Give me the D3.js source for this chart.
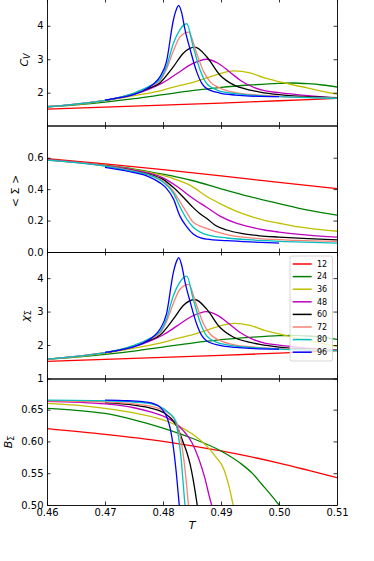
<!DOCTYPE html>
<html><head><meta charset="utf-8">
<script src="https://cdn.jsdelivr.net/npm/d3@7"></script>
<style>body{margin:0;background:#fff} svg{display:block} text{font-family:"DejaVu Sans",sans-serif;fill:#000}</style>
</head><body><svg id="c" width="374" height="561"></svg>
<script>
// ---- data ----
const sizes = [12, 24, 36, 48, 60, 72, 80, 96];
const colors = ["#ff0000", "#008000", "#bfbf00", "#bf00bf", "#000000", "#fa8072", "#00bfbf", "#0000ff"];
const xTicks = [0.46, 0.47, 0.48, 0.49, 0.50, 0.51];
const cvTicks = [2, 3, 4];
const sigmaTicks = [0.0, 0.2, 0.4, 0.6];
const chiTicks = [1, 2, 3, 4];
const binderTicks = [0.50, 0.55, 0.60, 0.65];

// specific heat C_V : [T, value]
const cv12 = [[0.46,1.51],[0.47,1.57],[0.48,1.63],[0.49,1.69],[0.50,1.76],[0.51,1.83]];
const cv24 = [[0.46,1.58],[0.465,1.64],[0.47,1.72],[0.475,1.82],[0.48,1.94],[0.485,2.06],[0.49,2.16],[0.495,2.23],[0.50,2.28],[0.5025,2.29],[0.505,2.27],[0.5075,2.23],[0.51,2.17]];
const cv36 = [[0.46,1.58],[0.465,1.65],[0.47,1.76],[0.475,1.91],[0.48,2.08],[0.4825,2.20],[0.485,2.30],[0.4875,2.44],[0.49,2.58],[0.4922,2.65],[0.495,2.59],[0.4975,2.44],[0.50,2.33],[0.5025,2.23],[0.505,2.14],[0.5075,2.04],[0.51,1.96]];
const cv48 = [[0.46,1.58],[0.465,1.66],[0.47,1.77],[0.475,1.95],[0.4775,2.10],[0.48,2.30],[0.4825,2.58],[0.485,2.86],[0.4875,3.00],[0.4895,2.88],[0.4915,2.62],[0.4935,2.35],[0.4955,2.17],[0.4975,2.06],[0.50,2.00],[0.505,1.91],[0.51,1.84]];
const cv60 = [[0.47,1.77],[0.475,1.97],[0.4775,2.13],[0.4795,2.30],[0.4818,2.78],[0.4835,3.18],[0.4855,3.36],[0.4875,3.08],[0.4898,2.53],[0.4921,2.24],[0.495,2.08],[0.4967,2.02],[0.50,1.94],[0.505,1.88],[0.51,1.85]];
const cv72 = [[0.46,1.58],[0.465,1.66],[0.47,1.77],[0.475,1.98],[0.4775,2.16],[0.4795,2.36],[0.4806,2.70],[0.4818,3.25],[0.4829,3.66],[0.4844,3.81],[0.4858,3.18],[0.487,2.63],[0.4881,2.33],[0.4898,2.14],[0.4925,2.00],[0.495,1.95],[0.50,1.89],[0.505,1.86],[0.51,1.84]];
const cv80 = [[0.46,1.58],[0.465,1.66],[0.47,1.77],[0.475,1.99],[0.4775,2.18],[0.4795,2.40],[0.4806,2.78],[0.4818,3.48],[0.4829,3.88],[0.4841,4.06],[0.4852,3.38],[0.4864,2.68],[0.4875,2.28],[0.4893,2.08],[0.4925,1.97],[0.495,1.93],[0.50,1.88],[0.505,1.85],[0.51,1.83]];
const cv96 = [[0.47,1.78],[0.4725,1.85],[0.475,1.95],[0.4765,2.05],[0.4783,2.25],[0.4795,2.48],[0.4806,2.93],[0.4818,4.18],[0.4824,4.53],[0.4827,4.61],[0.4832,4.40],[0.4838,3.88],[0.4847,3.28],[0.4858,2.63],[0.4867,2.28],[0.4875,2.13],[0.4898,1.99],[0.4925,1.93],[0.495,1.90],[0.50,1.88]];

// order parameter <Sigma>
const s12 = [[0.46,0.594],[0.47,0.561],[0.48,0.524],[0.49,0.484],[0.50,0.443],[0.51,0.403]];
const s24 = [[0.46,0.590],[0.47,0.552],[0.475,0.528],[0.48,0.495],[0.485,0.455],[0.49,0.402],[0.495,0.352],[0.50,0.308],[0.505,0.266],[0.51,0.235]];
const s36 = [[0.46,0.588],[0.47,0.551],[0.475,0.524],[0.48,0.487],[0.4825,0.458],[0.485,0.418],[0.4875,0.355],[0.49,0.305],[0.4925,0.262],[0.495,0.228],[0.4975,0.202],[0.50,0.183],[0.5025,0.165],[0.505,0.152],[0.51,0.132]];
const s48 = [[0.46,0.587],[0.47,0.550],[0.475,0.521],[0.48,0.472],[0.4825,0.415],[0.485,0.345],[0.4875,0.285],[0.49,0.225],[0.4925,0.185],[0.495,0.160],[0.4975,0.140],[0.50,0.127],[0.505,0.108],[0.51,0.095]];
const s60 = [[0.47,0.548],[0.475,0.516],[0.4775,0.495],[0.48,0.462],[0.4818,0.410],[0.483,0.368],[0.485,0.290],[0.4865,0.240],[0.4875,0.215],[0.489,0.170],[0.491,0.140],[0.4935,0.118],[0.4967,0.103],[0.50,0.095],[0.505,0.085],[0.51,0.077]];
const s72 = [[0.46,0.585],[0.47,0.548],[0.475,0.514],[0.4775,0.492],[0.48,0.452],[0.4818,0.386],[0.4829,0.322],[0.4841,0.250],[0.4852,0.190],[0.4875,0.150],[0.491,0.110],[0.4967,0.085],[0.503,0.074],[0.51,0.067]];
const s80 = [[0.46,0.585],[0.47,0.547],[0.475,0.512],[0.4775,0.490],[0.48,0.445],[0.4818,0.375],[0.4829,0.290],[0.4841,0.210],[0.4852,0.158],[0.4865,0.125],[0.4875,0.110],[0.491,0.089],[0.4967,0.074],[0.503,0.064],[0.51,0.057]];
const s96 = [[0.47,0.539],[0.475,0.505],[0.4775,0.480],[0.4795,0.440],[0.4806,0.405],[0.4818,0.338],[0.4829,0.230],[0.4841,0.160],[0.4852,0.115],[0.4865,0.090],[0.4875,0.082],[0.491,0.072],[0.495,0.064],[0.50,0.057]];

// susceptibility chi_Sigma (reads the same as C_V in the picture)
const chi12 = cv12, chi24 = cv24, chi36 = cv36, chi48 = cv48, chi60 = cv60, chi72 = cv72, chi80 = cv80, chi96 = cv96;

// Binder cumulant B_Sigma
const b12 = [[0.46,0.620],[0.47,0.611],[0.48,0.600],[0.49,0.585],[0.50,0.566],[0.51,0.543]];
const b24 = [[0.46,0.652],[0.465,0.649],[0.47,0.644],[0.475,0.634],[0.48,0.621],[0.485,0.605],[0.49,0.585],[0.4933,0.566],[0.4955,0.549],[0.497,0.533],[0.4985,0.517],[0.50,0.500],[0.5005,0.494]];
const b36 = [[0.46,0.660],[0.465,0.657],[0.47,0.652],[0.475,0.645],[0.48,0.634],[0.4825,0.625],[0.485,0.612],[0.4875,0.593],[0.489,0.577],[0.4905,0.556],[0.4915,0.525],[0.4921,0.500],[0.4923,0.494]];
const b48 = [[0.46,0.663],[0.47,0.659],[0.475,0.653],[0.478,0.646],[0.48,0.640],[0.482,0.630],[0.4835,0.617],[0.485,0.598],[0.4862,0.572],[0.4872,0.543],[0.488,0.513],[0.4885,0.496]];
const b60 = [[0.47,0.661],[0.475,0.657],[0.478,0.652],[0.4805,0.643],[0.4818,0.632],[0.4826,0.620],[0.4835,0.598],[0.4841,0.583],[0.4847,0.563],[0.4852,0.540],[0.4856,0.518],[0.4859,0.500],[0.486,0.494]];
const b72 = [[0.46,0.664],[0.47,0.662],[0.475,0.659],[0.478,0.655],[0.4805,0.647],[0.4818,0.637],[0.4825,0.626],[0.483,0.607],[0.4835,0.578],[0.484,0.538],[0.4844,0.500],[0.4845,0.494]];
const b80 = [[0.46,0.665],[0.47,0.664],[0.475,0.662],[0.478,0.659],[0.48,0.652],[0.481,0.645],[0.4815,0.641],[0.4821,0.633],[0.4826,0.612],[0.4831,0.575],[0.4835,0.532],[0.4838,0.500],[0.4839,0.494]];
const b96 = [[0.47,0.665],[0.474,0.664],[0.477,0.662],[0.4785,0.659],[0.4795,0.654],[0.4802,0.646],[0.4808,0.635],[0.4813,0.618],[0.4818,0.590],[0.4823,0.550],[0.4827,0.510],[0.4829,0.490]];

// ---- drawing ----
const svg = d3.select("#c");
const L = 47, R = 337;
const x = d3.scaleLinear().domain([0.46, 0.51]).range([L, R]);

const panels = [
  {top: -1, bottom: 125.5, domain: [1.02, 4.8], ticks: cvTicks, fmt: d3.format("d"),
   series: [cv12, cv24, cv36, cv48, cv60, cv72, cv80, cv96], label: "cv", lx: 28, ly: 60},
  {top: 125.5, bottom: 252, domain: [0, 0.805], ticks: sigmaTicks, fmt: d3.format(".1f"),
   series: [s12, s24, s36, s48, s60, s72, s80, s96], label: "sigma", lx: 19, ly: 191},
  {top: 252, bottom: 378.5, domain: [1, 4.78], ticks: chiTicks, fmt: d3.format("d"),
   series: [chi12, chi24, chi36, chi48, chi60, chi72, chi80, chi96], label: "chi", lx: 29, ly: 316},
  {top: 378.5, bottom: 505, domain: [0.5, 0.699], ticks: binderTicks, fmt: d3.format(".2f"),
   series: [b12, b24, b36, b48, b60, b72, b80, b96], label: "binder", lx: 12, ly: 442}
];

const defs = svg.append("defs");

panels.forEach((p, pi) => {
  const y = d3.scaleLinear().domain(p.domain).range([p.bottom, p.top]);
  const g = svg.append("g");
  defs.append("clipPath").attr("id", "clip" + pi)
    .append("rect").attr("x", L).attr("y", p.top).attr("width", R - L).attr("height", p.bottom - p.top);

  const line = d3.line().x(d => x(d[0])).y(d => y(d[1])).curve(d3.curveMonotoneX);
  const lg = g.append("g").attr("clip-path", `url(#clip${pi})`);
  p.series.forEach((s, i) => {
    lg.append("path").attr("d", line(s)).attr("fill", "none")
      .attr("stroke", colors[i]).attr("stroke-width", 1.3).attr("stroke-linejoin", "round");
  });

  // axes with inward ticks on all four sides
  const axL = d3.axisLeft(y).tickValues(p.ticks).tickFormat(p.fmt).tickSizeInner(-3.5).tickSizeOuter(0).tickPadding(3.5);
  const axR = d3.axisRight(y).tickValues(p.ticks).tickFormat("").tickSizeInner(-3.5).tickSizeOuter(0);
  const axB = d3.axisBottom(x).tickValues(xTicks).tickFormat(pi === 3 ? d3.format(".2f") : "").tickSizeInner(-3.5).tickSizeOuter(0).tickPadding(3.5);
  const axT = d3.axisTop(x).tickValues(xTicks).tickFormat("").tickSizeInner(-3.5).tickSizeOuter(0);
  const gl = g.append("g").attr("transform", `translate(${L},0)`).call(axL);
  const gr = g.append("g").attr("transform", `translate(${R},0)`).call(axR);
  const gb = g.append("g").attr("transform", `translate(0,${p.bottom})`).call(axB);
  const gt = g.append("g").attr("transform", `translate(0,${p.top})`).call(axT);
  [gl, gr, gb, gt].forEach(a => {
    a.select(".domain").attr("stroke", "#000").attr("stroke-width", 0.9);
    a.selectAll(".tick line").attr("stroke", "#000").attr("stroke-width", 0.8);
    a.selectAll(".tick text").attr("font-family", "DejaVu Sans").attr("font-size", 10).attr("fill", "#000");
  });

  // y label
  const t = svg.append("text").attr("transform", `translate(${p.lx},${p.ly}) rotate(-90)`)
    .attr("text-anchor", "middle").attr("font-size", 11);
  if (p.label === "cv") {
    t.append("tspan").attr("font-style", "italic").text("C");
    t.append("tspan").attr("font-style", "italic").attr("font-size", 8).attr("dy", 2).text("V");
  } else if (p.label === "sigma") {
    t.text("< Σ >");
  } else if (p.label === "chi") {
    t.append("tspan").attr("font-style", "italic").text("χ");
    t.append("tspan").attr("font-size", 8).attr("dy", 2).text("Σ");
  } else {
    t.append("tspan").attr("font-style", "italic").text("B");
    t.append("tspan").attr("font-size", 8).attr("dy", 2).text("Σ");
  }
});

// x label
svg.append("text").attr("x", (L + R) / 2).attr("y", 529).attr("text-anchor", "middle")
  .attr("font-size", 11).attr("font-style", "italic").text("T");

// legend (in the chi panel)
const leg = svg.append("g");
leg.append("rect").attr("x", 290).attr("y", 256).attr("width", 42.5).attr("height", 105).attr("rx", 2)
  .attr("fill", "#fff").attr("fill-opacity", 0.8).attr("stroke", "#cccccc").attr("stroke-width", 0.8);
sizes.forEach((s, i) => {
  const yy = 264 + i * 12.6;
  leg.append("line").attr("x1", 292.7).attr("x2", 311.7).attr("y1", yy).attr("y2", yy)
    .attr("stroke", colors[i]).attr("stroke-width", 1.5);
  leg.append("text").attr("x", 317).attr("y", yy).attr("dy", "0.35em").attr("font-size", 8).text(s);
});
</script>
</body></html>
